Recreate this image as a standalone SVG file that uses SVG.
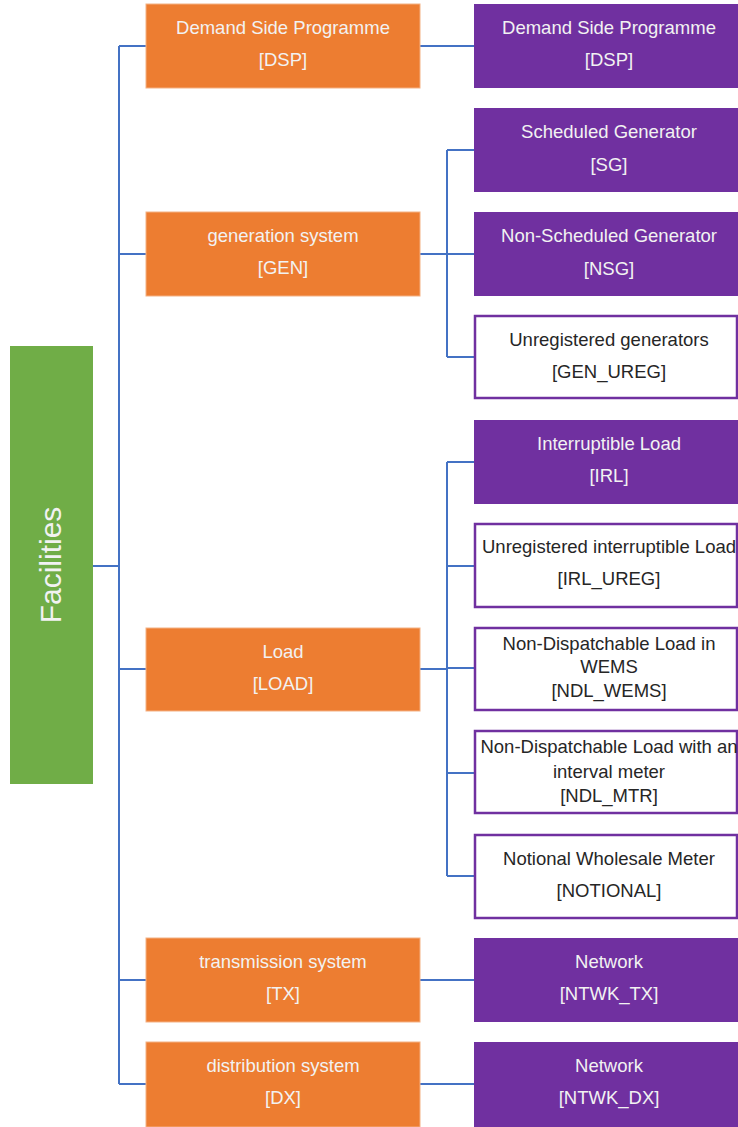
<svg xmlns="http://www.w3.org/2000/svg" width="738" height="1127" viewBox="0 0 738 1127">
<style>
.or{fill:#ED7D31;stroke:#F4B183;stroke-width:1}
.pu{fill:#7030A0}
.wh{fill:#FFFFFF;stroke:#7030A0;stroke-width:2.5}
.gr{fill:#70AD47}
text{font-family:"Liberation Sans",Arial,sans-serif;font-size:18.5px;text-anchor:middle}
.lt{fill:#F2F2F2}
.dk{fill:#262626}
.big{font-size:30px;fill:#F2F2F2}
.cn{stroke:#4472C4;stroke-width:2;fill:none}
</style>
<rect width="738" height="1127" fill="#FFFFFF"/>
<g id="connectors">
<path class="cn" d="M119,46V1084M93,566H119M119,46H146M420,46H474M119,254H146M420,254H447M447,150V357M447,150H474M447,254H474M447,357H474M119,669H146M420,669H447M447,462V876M447,462H474M447,566H474M447,668H474M447,773H474M447,876H474M119,980H146M420,980H474M119,1084H146M420,1084H474"/>
</g>
<g id="facilities"><rect class="gr" x="10" y="346" width="83" height="438"/><text class="big" transform="translate(61,565) rotate(-90)">Facilities</text></g>
<g id="dsp"><rect class="or" x="146" y="4" width="274" height="84"/><text class="lt" x="283" y="34">Demand Side Programme</text><text class="lt" x="283" y="66">[DSP]</text></g>
<g id="gen"><rect class="or" x="146" y="212" width="274" height="84"/><text class="lt" x="283" y="242">generation system</text><text class="lt" x="283" y="274">[GEN]</text></g>
<g id="load"><rect class="or" x="146" y="628" width="274" height="83"/><text class="lt" x="283" y="658">Load</text><text class="lt" x="283" y="690">[LOAD]</text></g>
<g id="tx"><rect class="or" x="146" y="938" width="274" height="84"/><text class="lt" x="283" y="968">transmission system</text><text class="lt" x="283" y="1000">[TX]</text></g>
<g id="dx"><rect class="or" x="146" y="1042" width="274" height="85"/><text class="lt" x="283" y="1072">distribution system</text><text class="lt" x="283" y="1104">[DX]</text></g>
<g id="dsp2"><rect class="pu" x="474" y="4" width="270" height="84"/><text class="lt" x="609" y="34">Demand Side Programme</text><text class="lt" x="609" y="66">[DSP]</text></g>
<g id="sg"><rect class="pu" x="474" y="108" width="270" height="84"/><text class="lt" x="609" y="138">Scheduled Generator</text><text class="lt" x="609" y="171">[SG]</text></g>
<g id="nsg"><rect class="pu" x="474" y="212" width="270" height="84"/><text class="lt" x="609" y="242">Non-Scheduled Generator</text><text class="lt" x="609" y="275">[NSG]</text></g>
<g id="gen_ureg"><rect class="wh" x="475" y="316" width="262" height="82"/><text class="dk" x="609" y="346">Unregistered generators</text><text class="dk" x="609" y="378">[GEN_UREG]</text></g>
<g id="irl"><rect class="pu" x="474" y="420" width="270" height="84"/><text class="lt" x="609" y="450">Interruptible Load</text><text class="lt" x="609" y="482">[IRL]</text></g>
<g id="irl_ureg"><rect class="wh" x="475" y="524" width="262" height="83"/><text class="dk" x="609" y="553">Unregistered interruptible Load</text><text class="dk" x="609" y="585">[IRL_UREG]</text></g>
<g id="ndl_wems"><rect class="wh" x="475" y="628" width="262" height="82"/><text class="dk" x="609" y="650">Non-Dispatchable Load in</text><text class="dk" x="609" y="673">WEMS</text><text class="dk" x="609" y="697">[NDL_WEMS]</text></g>
<g id="ndl_mtr"><rect class="wh" x="475" y="731" width="262" height="82"/><text class="dk" x="609" y="753">Non-Dispatchable Load with an</text><text class="dk" x="609" y="778">interval meter</text><text class="dk" x="609" y="802">[NDL_MTR]</text></g>
<g id="notional"><rect class="wh" x="475" y="835" width="262" height="83"/><text class="dk" x="609" y="865">Notional Wholesale Meter</text><text class="dk" x="609" y="897">[NOTIONAL]</text></g>
<g id="ntwk_tx"><rect class="pu" x="474" y="938" width="270" height="84"/><text class="lt" x="609" y="968">Network</text><text class="lt" x="609" y="1000">[NTWK_TX]</text></g>
<g id="ntwk_dx"><rect class="pu" x="474" y="1042" width="270" height="85"/><text class="lt" x="609" y="1072">Network</text><text class="lt" x="609" y="1104">[NTWK_DX]</text></g>
</svg>
